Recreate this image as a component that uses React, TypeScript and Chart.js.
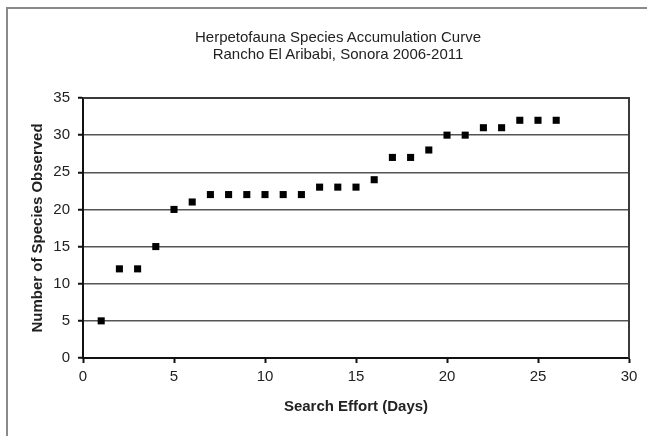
import React, { useEffect, useRef } from "react";
import { Chart, registerables } from "chart.js";

Chart.register(...registerables);

const searchDays: number[] = [1, 2, 3, 4, 5, 6, 7, 8, 9, 10, 11, 12, 13, 14, 15, 16, 17, 18, 19, 20, 21, 22, 23, 24, 25, 26];
const speciesObserved: number[] = [5, 12, 12, 15, 20, 21, 22, 22, 22, 22, 22, 22, 23, 23, 23, 24, 27, 27, 28, 30, 30, 31, 31, 32, 32, 32];
const titleLines: string[] = ["Herpetofauna Species Accumulation Curve", "Rancho El Aribabi, Sonora 2006-2011"];
const xAxisTitle = "Search Effort (Days)";
const yAxisTitle = "Number of Species Observed";
const xRange = { min: 0, max: 30, step: 5 };
const yRange = { min: 0, max: 35, step: 5 };

const FONT = "'Liberation Sans', Arial, Helvetica, sans-serif";

const plotBorder = {
  id: "plotBorder",
  beforeDatasetsDraw(chart: any) {
    const { ctx, chartArea } = chart;
    ctx.save();
    ctx.strokeStyle = "#3a3a3a";
    ctx.lineWidth = 2;
    ctx.beginPath();
    ctx.moveTo(chartArea.left, chartArea.top);
    ctx.lineTo(chartArea.right, chartArea.top);
    ctx.lineTo(chartArea.right, chartArea.bottom);
    ctx.stroke();
    ctx.restore();
  },
};

export default function App() {
  const canvasRef = useRef<HTMLCanvasElement | null>(null);

  useEffect(() => {
    if (!canvasRef.current) return;
    const chart = new Chart(canvasRef.current, {
      type: "scatter",
      data: {
        datasets: [
          {
            label: "Species",
            data: searchDays.map((d, i) => ({ x: d, y: speciesObserved[i] })),
            pointStyle: "rect",
            pointRadius: 5,
            pointHoverRadius: 5,
            backgroundColor: "#000000",
            borderWidth: 0,
          },
        ],
      },
      options: {
        responsive: false,
        animation: false,
        layout: { padding: { top: 98, right: 18, bottom: 20, left: 29 } },
        plugins: {
          legend: { display: false },
          title: { display: false },
          tooltip: { enabled: false },
        },
        scales: {
          x: {
            type: "linear",
            min: xRange.min,
            max: xRange.max,
            afterFit: (s: any) => {
              s.height = 58;
            },
            ticks: {
              stepSize: xRange.step,
              padding: 5,
              color: "#222",
              font: { family: FONT, size: 15 },
            },
            grid: {
              drawOnChartArea: false,
              drawTicks: true,
              tickLength: 5,
              tickColor: "#111",
              tickWidth: 2,
            },
            border: { color: "#111", width: 2 },
            title: {
              display: true,
              text: xAxisTitle,
              color: "#222",
              padding: 0,
              font: { family: FONT, size: 15, weight: "bold" },
            },
          },
          y: {
            type: "linear",
            min: yRange.min,
            max: yRange.max,
            afterFit: (s: any) => {
              s.width = 54;
            },
            ticks: {
              stepSize: yRange.step,
              padding: 8,
              color: "#222",
              font: { family: FONT, size: 15 },
            },
            grid: {
              color: "#555",
              lineWidth: 1.5,
              drawTicks: true,
              tickLength: 5,
              tickColor: "#111",
              tickWidth: 2,
            },
            border: { color: "#111", width: 2 },
            title: {
              display: true,
              text: yAxisTitle,
              color: "#222",
              padding: 0,
              font: { family: FONT, size: 15, weight: "bold" },
            },
          },
        },
      },
      plugins: [plotBorder],
    });
    return () => chart.destroy();
  }, []);

  return (
    <div
      style={{
        position: "fixed",
        left: 0,
        top: 0,
        width: 647,
        height: 436,
        background: "#ffffff",
        overflow: "hidden",
      }}
    >
      <div
        style={{
          position: "absolute",
          left: 6,
          top: 7,
          width: 700,
          height: 500,
          borderLeft: "2px solid #8a8a8a",
          borderTop: "2px solid #8a8a8a",
        }}
      />
      <canvas
        ref={canvasRef}
        width={647}
        height={436}
        style={{ position: "absolute", left: 0, top: 0, width: 647, height: 436 }}
      />
      <div
        style={{
          position: "absolute",
          left: 338,
          top: 28,
          transform: "translateX(-50%)",
          whiteSpace: "nowrap",
          textAlign: "center",
          fontFamily: FONT,
          fontSize: 15,
          lineHeight: "17px",
          color: "#222",
        }}
      >
        {titleLines.map((t) => (
          <div key={t}>{t}</div>
        ))}
      </div>
    </div>
  );
}
